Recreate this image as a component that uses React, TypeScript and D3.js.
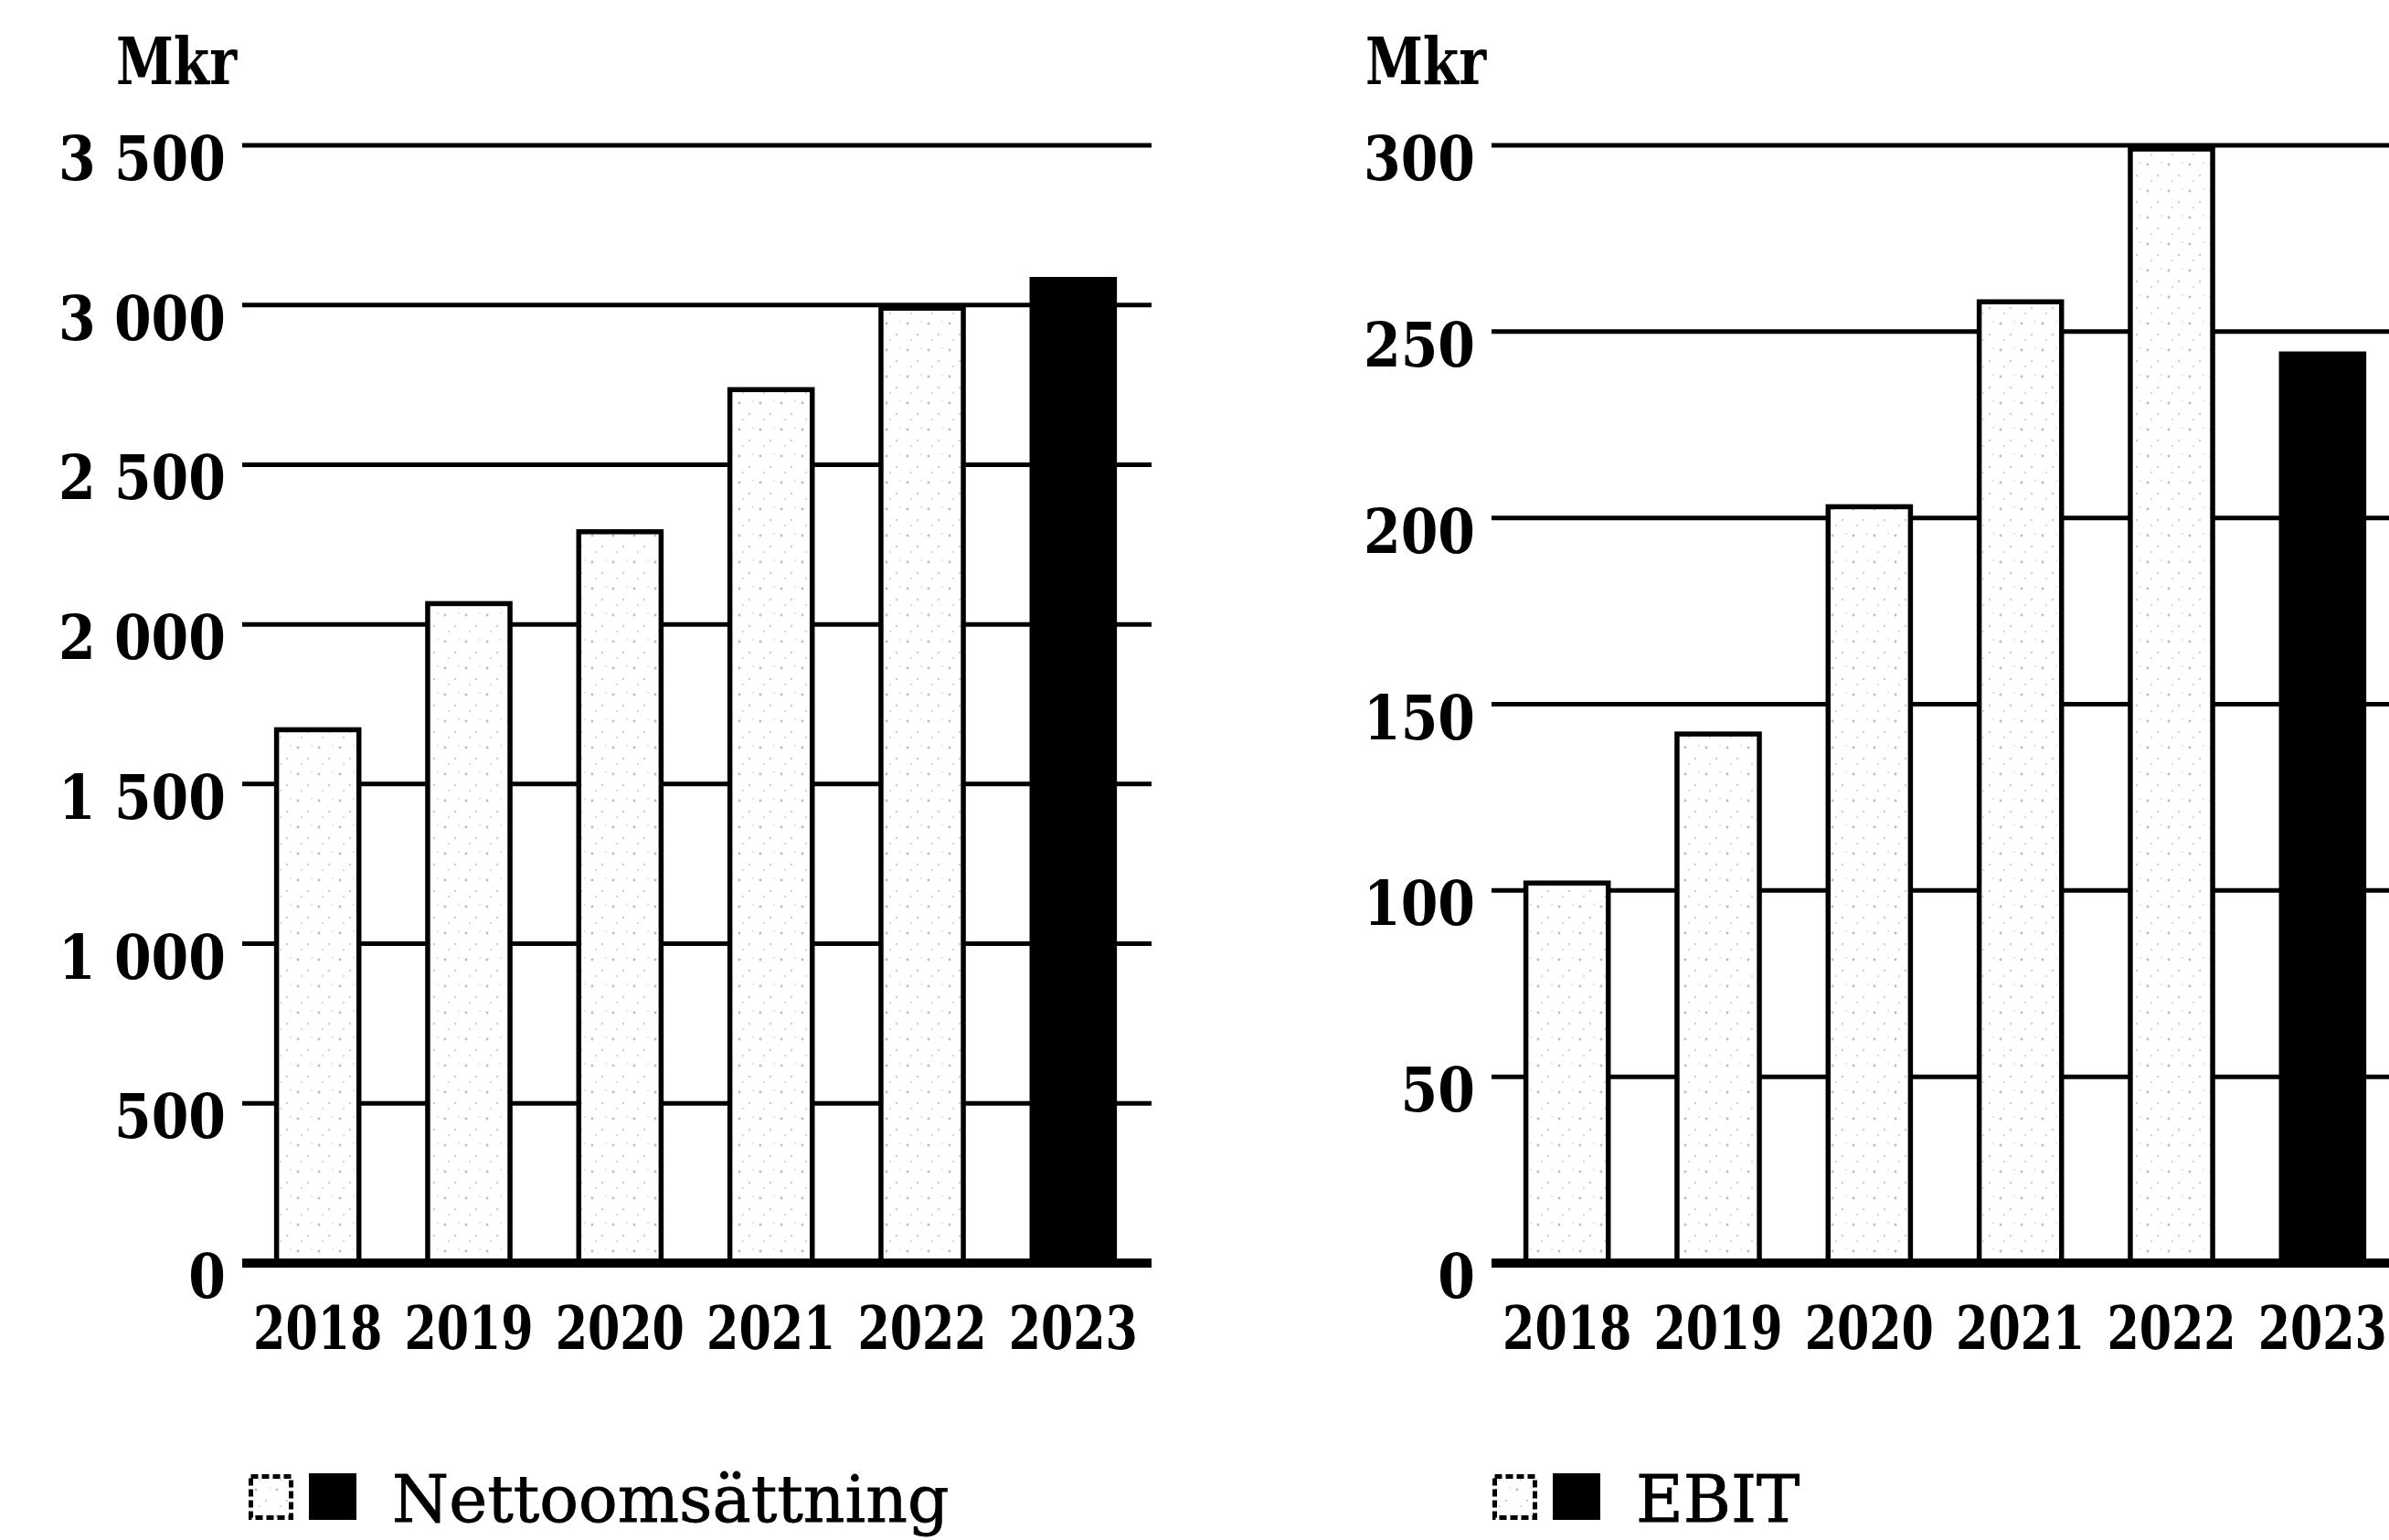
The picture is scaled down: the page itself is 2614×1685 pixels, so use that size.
import React from 'react';
import * as d3 from 'd3';

const years = ['2018', '2019', '2020', '2021', '2022', '2023'];
const netSales = [1670, 2065, 2290, 2735, 2990, 3080];
const ebit = [102, 142, 203, 258, 299, 244];
const netTicks = [0, 500, 1000, 1500, 2000, 2500, 3000, 3500];
const ebitTicks = [0, 50, 100, 150, 200, 250, 300];
const netLabel = 'Nettoomsättning';
const ebitLabel = 'EBIT';
const unitLabel = 'Mkr';

const W = 2614;
const H = 1685;
const FONT = "'DejaVu Serif', 'Liberation Serif', serif";

const fmtThousands = (v: number) => {
  const s = String(v);
  if (s.length <= 3) return s;
  return s.slice(0, s.length - 3) + ' ' + s.slice(s.length - 3);
};

type PanelProps = {
  x0: number;
  gridEnd: number;
  legendX: number;
  values: number[];
  ticks: number[];
  max: number;
  legend: string;
};

function Panel({ x0, gridEnd, legendX, values, ticks, max, legend }: PanelProps) {
  const x = d3
    .scaleBand<string>()
    .domain(years)
    .range([x0, x0 + 992])
    .paddingInner(0.455)
    .paddingOuter(0.2275);
  const y = d3.scaleLinear().domain([0, max]).range([1382, 159]);
  const bw = x.bandwidth();
  const last = years.length - 1;

  return (
    <g>
      <text
        transform={`translate(${x0 - 138},92) scale(0.8,1)`}
        fontSize={71}
        fontWeight="bold"
        fontFamily={FONT}
        fill="#000"
      >
        {unitLabel}
      </text>
      {ticks.map((t) => (
        <g key={t}>
          {t > 0 && (
            <line x1={x0} x2={gridEnd} y1={y(t)} y2={y(t)} stroke="#000" strokeWidth={5} />
          )}
          <text
            transform={`translate(${x0 - 18},${y(t) + 38}) scale(0.86,1)`}
            textAnchor="end"
            fontSize={68}
            fontWeight="bold"
            fontFamily={FONT}
            fill="#000"
          >
            {fmtThousands(t)}
          </text>
        </g>
      ))}
      {values.map((v, i) => (
        <rect
          key={years[i]}
          x={x(years[i])!}
          y={y(v)}
          width={bw}
          height={y(0) - y(v)}
          fill={i === last ? '#000' : 'url(#stipple)'}
          stroke="#000"
          strokeWidth={5.5}
        />
      ))}
      <line x1={x0} x2={gridEnd} y1={y(0)} y2={y(0)} stroke="#000" strokeWidth={10} />
      {years.map((yr) => (
        <text
          key={yr}
          transform={`translate(${x(yr)! + bw / 2},1476) scale(0.78,1)`}
          textAnchor="middle"
          fontSize={65}
          fontWeight="bold"
          fontFamily={FONT}
          fill="#000"
        >
          {yr}
        </text>
      ))}
      <g>
        <rect
          x={legendX + 2.5}
          y={1615.5}
          width={44}
          height={45}
          fill="url(#stipple)"
          stroke="#000"
          strokeWidth={5}
          strokeDasharray="8 4"
        />
        <rect x={legendX + 66} y={1612} width={52} height={51} fill="#000" />
        <text
          x={legendX + 157}
          y={1665}
          fontSize={71}
          fontFamily={FONT}
          fill="#000"
          stroke="#000"
          strokeWidth={0.8}
        >
          {legend}
        </text>
      </g>
    </g>
  );
}

export default function App() {
  return (
    <svg
      width={W}
      height={H}
      viewBox={`0 0 ${W} ${H}`}
      style={{ position: 'absolute', left: 0, top: 0, display: 'block', background: '#fff' }}
    >
      <defs>
        <pattern id="stipple" width="23" height="29" patternUnits="userSpaceOnUse">
          <rect width="23" height="29" fill="#fff" />
          <circle cx="4" cy="6" r="1.4" fill="#bbb" />
          <circle cx="15" cy="18" r="1.2" fill="#ccc" />
          <circle cx="19" cy="4" r="1" fill="#ddd" />
          <circle cx="8" cy="24" r="1" fill="#ccc" />
        </pattern>
      </defs>
      <rect width={W} height={H} fill="#fff" />
      <Panel x0={265} gridEnd={1260} legendX={272} values={netSales} ticks={netTicks} max={3500} legend={netLabel} />
      <Panel x0={1632} gridEnd={W} legendX={1633} values={ebit} ticks={ebitTicks} max={300} legend={ebitLabel} />
    </svg>
  );
}
